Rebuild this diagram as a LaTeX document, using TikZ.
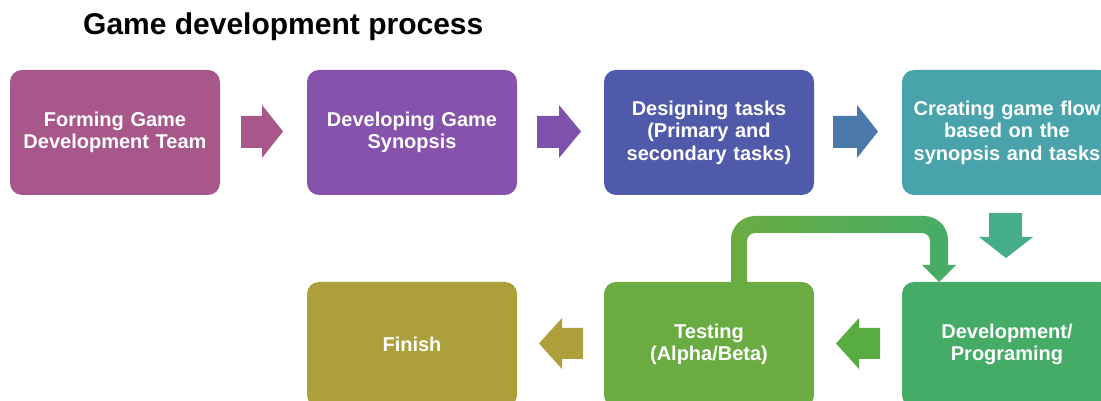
\documentclass[tikz,border=0pt]{standalone}
\usepackage{fontspec}
\setmainfont{Liberation Sans}
\begin{document}
\begin{tikzpicture}[x=1pt,y=1pt,
  box/.style={rounded corners=12pt, minimum width=210pt, minimum height=125pt,
    inner sep=0pt, text=white, align=center, text width=205pt,
    font=\bfseries\fontsize{20}{22.5}\selectfont},
  blockarrow/.style={draw=none}]
\definecolor{cA}{HTML}{A8578B}
\definecolor{cB}{HTML}{8752AB}
\definecolor{cC}{HTML}{4F5AAB}
\definecolor{cD}{HTML}{48A3AB}
\definecolor{cE}{HTML}{45AC68}
\definecolor{cF}{HTML}{6AAC41}
\definecolor{cG}{HTML}{ADA03A}
\definecolor{aA}{HTML}{A8578B}
\definecolor{aB}{HTML}{7E52AC}
\definecolor{aC}{HTML}{4A78A8}
\definecolor{aD}{HTML}{45AD8A}
\definecolor{aE}{HTML}{58AC40}
\definecolor{aF}{HTML}{ADA03A}
\useasboundingbox (0,0) rectangle (1101,401);
% title
\node[anchor=base west, inner sep=0pt, font=\bfseries\fontsize{30}{34}\selectfont] (title) at (83,366) {Game development process};
% boxes
\node[box, fill=cA] (b1) at (115,268.5) {Forming Game\\Development Team};
\node[box, fill=cB] (b2) at (412,268.5) {Developing Game\\Synopsis};
\node[box, fill=cC] (b3) at (709,268.5) {Designing tasks\\(Primary and\\secondary tasks)};
\node[box, fill=cD] (b4) at (1007,268.5) {Creating game flow\\based on the\\synopsis and tasks};
\node[box, fill=cE] (b5) at (1007,56.5) {Development/\\Programing};
\node[box, fill=cF] (b6) at (709,56.5) {Testing\\(Alpha/Beta)};
\node[box, fill=cG] (b7) at (412,56.5) {Finish};
% block arrows (right)
\fill[aA] (241,253) -- (262,253) -- (262,243) -- (283,269.5) -- (262,296) -- (262,285) -- (241,285) -- cycle;
\fill[aB] (537,253) -- (559,253) -- (559,243) -- (581,269.5) -- (559,296) -- (559,285) -- (537,285) -- cycle;
\fill[aC] (833,253) -- (857,253) -- (857,243) -- (878,269.5) -- (857,296) -- (857,285) -- (833,285) -- cycle;
% down arrow
\fill[aD] (989,188) -- (989,164) -- (979,164) -- (1006,143) -- (1033,164) -- (1022,164) -- (1022,188) -- cycle;
% left arrows
\fill[aE] (880,42) -- (859,42) -- (859,32) -- (836,57.5) -- (859,83) -- (859,73) -- (880,73) -- cycle;
\fill[aF] (583,42) -- (562,42) -- (562,32) -- (539,57.5) -- (562,83) -- (562,73) -- (583,73) -- cycle;
% loop arrow
\coordinate (lpL) at (b6.north -| 739,0);
\shade[left color=cF, right color=cE]
  (731,119) -- (731,161) arc[start angle=180, end angle=90, radius=24] -- (924,185)
  arc[start angle=90, end angle=0, radius=24] -- (948,136) -- (956,136) -- (939,119) -- (922,136) -- (930,136)
  -- (930,160) arc[start angle=0, end angle=90, radius=8] -- (755,168)
  arc[start angle=90, end angle=180, radius=8] -- (747,119) -- cycle;
\end{tikzpicture}
\end{document}
